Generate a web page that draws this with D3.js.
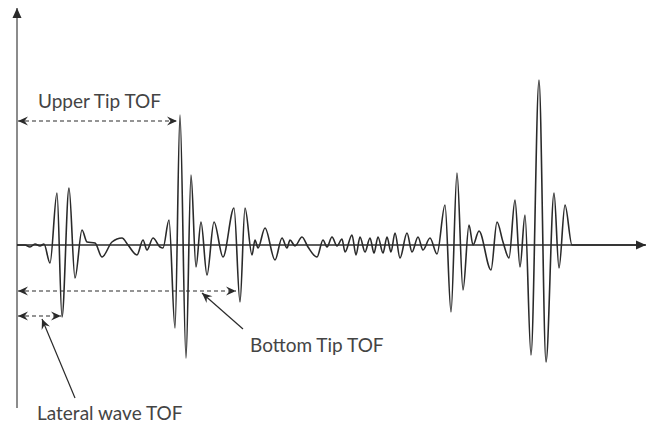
<!DOCTYPE html>
<html>
<head>
<meta charset="utf-8">
<script src="https://cdn.jsdelivr.net/npm/d3@7"></script>
<style>
  html, body { margin: 0; padding: 0; background: #fff; }
  svg { display: block; }
  text { font-family: Lato, "Open Sans", sans-serif; fill: #444; }
</style>
</head>
<body>
<div id="chart"></div>
<script>
// Waveform extrema: time (arbitrary units) and amplitude
const time = [0, 8, 13, 18, 23, 27, 33, 40, 45, 52, 58, 65, 70, 78, 85, 95, 105, 111, 120, 126, 130, 136, 143, 146,
  152, 158, 163, 169, 174, 179, 184, 190, 197, 206, 217, 223, 228, 235, 238, 241, 248, 258, 265, 270, 273, 278, 285, 291,
  300, 306, 310, 315, 320, 325, 328, 335, 339, 343, 348, 353, 357, 361, 366, 370, 374, 378, 383, 390, 395, 401, 406, 413,
  420, 428, 434, 440, 446, 452, 456, 462, 474, 480, 486, 492, 498, 503, 508, 514, 522, 529, 537, 542, 548, 555, 628];
const amplitude = [0, 0, -2, 1, -1, 1, -18, 52, -72, 57, -33, 15, 3, 2, -12, 3, 7, 0, -10, 5, -5, 7, -2, -3,
  25, -83, 130, -113, 70, -22, 23, -30, 23, -12, 37, -57, 37, -10, 5, -3, 17, -15, 7, -3, 5, -1, 8, -2,
  -12, 5, -2, 8, -1, 6, -7, 10, -10, 8, -7, 7, -8, 8, -8, 8, -7, 12, -13, 12, -7, 8, -5, 7,
  -9, 40, -67, 72, -45, 20, 0, 14, -25, 23, 3, -13, 45, -22, 30, -110, 165, -117, 52, -23, 40, 0, 0];

// Annotation labels and the times they mark
const labels = ["Upper Tip TOF", "Bottom Tip TOF", "Lateral wave TOF"];
const tofTimes = [161, 220, 45];

const W = 646, H = 426;
const svg = d3.select("#chart").append("svg").attr("width", W).attr("height", H);

const x = d3.scaleLinear().domain([0, 628]).range([17, 645]);
const y = d3.scaleLinear().domain([-117, 165]).range([362, 80]);

const ink = "#2a2a2a";

// markers
const defs = svg.append("defs");
defs.append("marker").attr("id", "ah").attr("viewBox", "-11 -5 12 10")
  .attr("refX", 0).attr("refY", 0).attr("markerWidth", 12).attr("markerHeight", 10)
  .attr("markerUnits", "userSpaceOnUse").attr("orient", "auto-start-reverse")
  .append("path").attr("d", "M0,0 L-10,-4.5 L-6.5,0 L-10,4.5 Z").attr("fill", ink);
defs.append("marker").attr("id", "axh").attr("viewBox", "-10 -5 12 10")
  .attr("refX", 0).attr("refY", 0).attr("markerWidth", 12).attr("markerHeight", 10)
  .attr("markerUnits", "userSpaceOnUse").attr("orient", "auto")
  .append("path").attr("d", "M0,0 L-10,-4.5 L-10,4.5 Z").attr("fill", ink);

// axes
svg.append("line").attr("x1", x(0)).attr("y1", 408).attr("x2", x(0)).attr("y2", 8)
  .attr("stroke", "#666").attr("stroke-width", 1.5).attr("marker-end", "url(#axh)");
svg.append("line").attr("x1", x(0)).attr("y1", y(0)).attr("x2", 646).attr("y2", y(0))
  .attr("stroke", ink).attr("stroke-width", 1.4).attr("marker-end", "url(#axh)");

// waveform
const pts = time.map((t, i) => [t, amplitude[i]]);
svg.append("path").datum(pts)
  .attr("d", d3.line().x(d => x(d[0])).y(d => y(d[1])).curve(d3.curveMonotoneX))
  .attr("fill", "none").attr("stroke", ink).attr("stroke-width", 1.6).attr("stroke-linejoin", "round");

// dimension arrows
function dim(t, yy) {
  svg.append("line").attr("x1", x(0) + 1).attr("x2", x(t) - 1).attr("y1", yy).attr("y2", yy)
    .attr("stroke", ink).attr("stroke-width", 1.2).attr("stroke-dasharray", "4,3")
    .attr("marker-start", "url(#ah)").attr("marker-end", "url(#ah)");
}
dim(tofTimes[0], 121);
dim(tofTimes[1], 291);
dim(tofTimes[2], 316);

// labels
svg.append("text").attr("x", 38).attr("y", 108).attr("font-size", 19).text(labels[0]);
svg.append("text").attr("x", 250).attr("y", 352).attr("font-size", 19).text(labels[1]);
svg.append("text").attr("x", 37).attr("y", 420).attr("font-size", 19).text(labels[2]);

// pointers
function pointer(x1, y1, x2, y2) {
  svg.append("line").attr("x1", x1).attr("y1", y1).attr("x2", x2).attr("y2", y2)
    .attr("stroke", ink).attr("stroke-width", 1.2).attr("marker-end", "url(#ah)");
}
pointer(243, 329, 202, 293);
pointer(75, 398, 42, 319);
</script>
</body>
</html>
